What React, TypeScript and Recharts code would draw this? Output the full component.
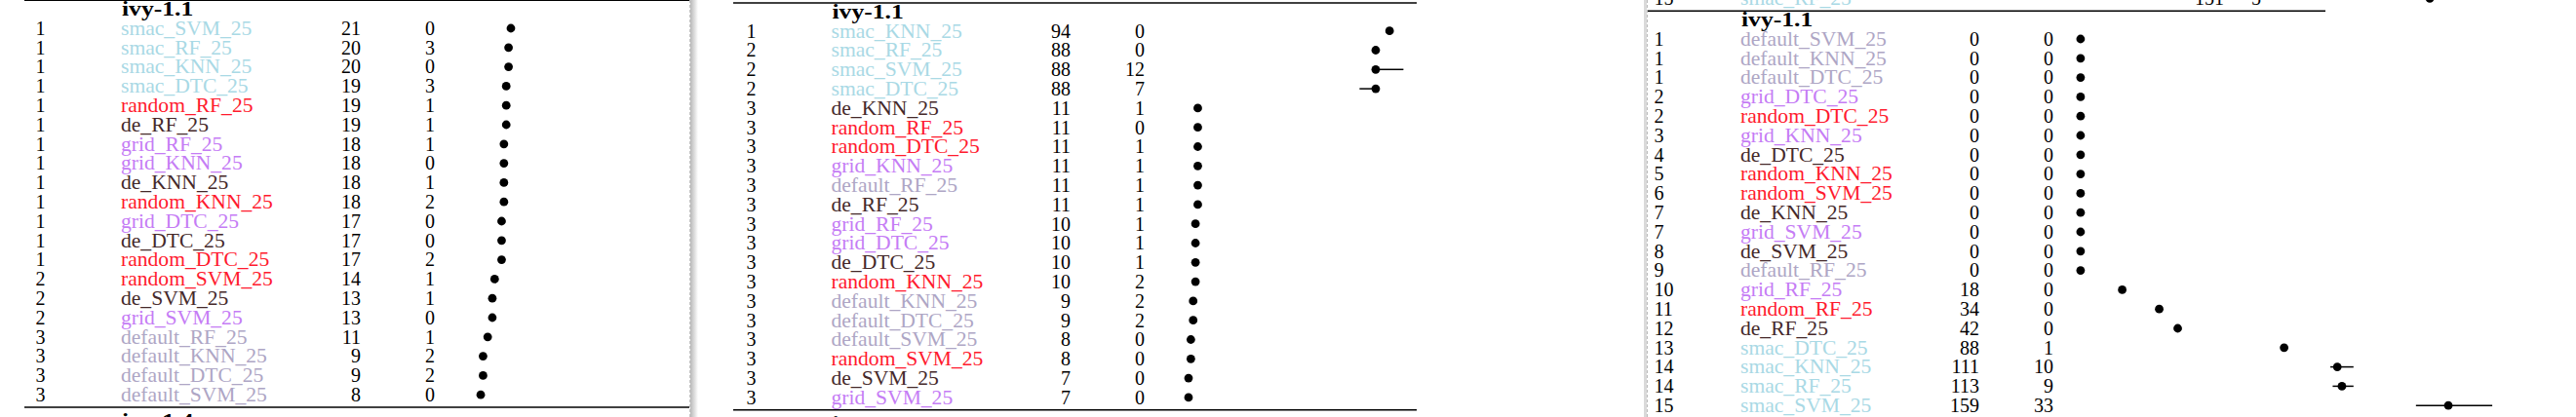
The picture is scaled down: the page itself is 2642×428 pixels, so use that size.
import React from "react";
import { ScatterChart, Scatter, XAxis, YAxis, ErrorBar } from "recharts";

// ---- data (read from the three result pages) ----

const headerTitle = "ivy-1.1";
const nextTitle = "ivy-1.4";

// page 1
const ranksA = [1, 1, 1, 1, 1, 1, 1, 1, 1, 1, 1, 1, 1, 2, 2, 2, 3, 3, 3, 3];
const namesA = [
  "smac_SVM_25", "smac_RF_25", "smac_KNN_25", "smac_DTC_25", "random_RF_25",
  "de_RF_25", "grid_RF_25", "grid_KNN_25", "de_KNN_25", "random_KNN_25",
  "grid_DTC_25", "de_DTC_25", "random_DTC_25", "random_SVM_25", "de_SVM_25",
  "grid_SVM_25", "default_RF_25", "default_KNN_25", "default_DTC_25", "default_SVM_25",
];
const medA = [21, 20, 20, 19, 19, 19, 18, 18, 18, 18, 17, 17, 17, 14, 13, 13, 11, 9, 9, 8];
const iqrA = [0, 3, 0, 3, 1, 1, 1, 0, 1, 2, 0, 0, 2, 1, 1, 0, 1, 2, 2, 0];
const errLoA = [0, 0, 0, 0, 0, 0, 0, 0, 0, 0, 0, 0, 0, 0, 0, 0, 0, 0, 0, 0];
const errHiA = [0, 0, 0, 0, 0, 0, 0, 0, 0, 0, 0, 0, 0, 0, 0, 0, 0, 0, 0, 0];

// page 2
const ranksB = [1, 2, 2, 2, 3, 3, 3, 3, 3, 3, 3, 3, 3, 3, 3, 3, 3, 3, 3, 3];
const namesB = [
  "smac_KNN_25", "smac_RF_25", "smac_SVM_25", "smac_DTC_25", "de_KNN_25",
  "random_RF_25", "random_DTC_25", "grid_KNN_25", "default_RF_25", "de_RF_25",
  "grid_RF_25", "grid_DTC_25", "de_DTC_25", "random_KNN_25", "default_KNN_25",
  "default_DTC_25", "default_SVM_25", "random_SVM_25", "de_SVM_25", "grid_SVM_25",
];
const medB = [94, 88, 88, 88, 11, 11, 11, 11, 11, 11, 10, 10, 10, 10, 9, 9, 8, 8, 7, 7];
const iqrB = [0, 0, 12, 7, 1, 0, 1, 1, 1, 1, 1, 1, 1, 2, 2, 2, 0, 0, 0, 0];
const errLoB = [0, 0, 0, 7, 0, 0, 0, 0, 0, 0, 0, 0, 0, 0, 0, 0, 0, 0, 0, 0];
const errHiB = [0, 0, 12, 0, 0, 0, 0, 0, 0, 0, 0, 0, 0, 0, 0, 0, 0, 0, 0, 0];

// page 3
const ranksC = [1, 1, 1, 2, 2, 3, 4, 5, 6, 7, 7, 8, 9, 10, 11, 12, 13, 14, 14, 15];
const namesC = [
  "default_SVM_25", "default_KNN_25", "default_DTC_25", "grid_DTC_25", "random_DTC_25",
  "grid_KNN_25", "de_DTC_25", "random_KNN_25", "random_SVM_25", "de_KNN_25",
  "grid_SVM_25", "de_SVM_25", "default_RF_25", "grid_RF_25", "random_RF_25",
  "de_RF_25", "smac_DTC_25", "smac_KNN_25", "smac_RF_25", "smac_SVM_25",
];
const medC = [0, 0, 0, 0, 0, 0, 0, 0, 0, 0, 0, 0, 0, 18, 34, 42, 88, 111, 113, 159];
const iqrC = [0, 0, 0, 0, 0, 0, 0, 0, 0, 0, 0, 0, 0, 0, 0, 0, 1, 10, 9, 33];
const errLoC = [0, 0, 0, 0, 0, 0, 0, 0, 0, 0, 0, 0, 0, 0, 0, 0, 0, 3, 4, 14];
const errHiC = [0, 0, 0, 0, 0, 0, 0, 0, 0, 0, 0, 0, 0, 0, 0, 0, 0, 7, 5, 19];
// last row of the previous table, cut off at the top of page 3
const prevRowC = { rank: 15, name: "smac_RF_25", med: 151, iqr: 5 };

const GROUP_COLORS: Record<string, string> = {
  smac: "#a9d9e5",
  random: "#ff1a2e",
  grid: "#c57cf5",
  de: "#45292a",
  default: "#aea6c5",
};

// ---- layout ----

const W = 2642;
const H = 428;
const ROW_H = 19.8;
const Y_MIN = -3;
const Y_MAX = 22;
const CHART_TOP = -40;
const CHART_H = 520;
const AXIS_W = 1;
const FONT = "'Liberation Serif', 'Times New Roman', serif";

const TOP_RULE = -1.45;
const HEADER_ROW = -1;
const BOTTOM_RULE = 19.65;
const NEXT_HEADER = 20.35;
const PREV_ROW = -2.1;

type Panel = {
  pageLeft: number;
  pageWidth: number;
  x0: number;
  slope: number;
  xMax: number;
  firstRowY: number;
  rankX: number;
  nameX: number;
  v1X: number;
  v2X: number;
  prevV1X?: number;
  prevV2X?: number;
  ruleX1: number;
  ruleX2: number;
  showBottom: boolean;
  showPrev: boolean;
};

type Row = { row: number; rank: number; name: string; x: number; iqr: number; err: number[] };

const buildRows = (
  ranks: number[], names: string[], med: number[], iqr: number[], lo: number[], hi: number[]
): Row[] => names.map((name, i) => ({
  row: i,
  rank: ranks[i],
  name,
  x: med[i],
  iqr: iqr[i],
  err: [lo[i], hi[i]],
}));

const prevRow: Row = {
  row: PREV_ROW,
  rank: prevRowC.rank,
  name: prevRowC.name,
  x: prevRowC.med,
  iqr: prevRowC.iqr,
  err: [0, 0],
};

const panels = [
  {
    rows: buildRows(ranksA, namesA, medA, iqrA, errLoA, errHiA),
    layout: {
      pageLeft: 0, pageWidth: 707, x0: 474, slope: 2.38, xMax: 90, firstRowY: 29,
      rankX: 36.5, nameX: 124, v1X: 370, v2X: 446, ruleX1: 25, ruleX2: 707,
      showBottom: true, showPrev: false,
    } as Panel,
  },
  {
    rows: buildRows(ranksB, namesB, medB, iqrB, errLoB, errHiB),
    layout: {
      pageLeft: 716, pageWidth: 970, x0: 1202.4, slope: 2.37, xMax: 100, firstRowY: 31.7,
      rankX: 765.5, nameX: 852.5, v1X: 1098, v2X: 1174, ruleX1: 752, ruleX2: 1453,
      showBottom: true, showPrev: false,
    } as Panel,
  },
  {
    rows: buildRows(ranksC, namesC, medC, iqrC, errLoC, errHiC),
    layout: {
      pageLeft: 1690, pageWidth: 952, x0: 2133.9, slope: 2.372, xMax: 180, firstRowY: 40,
      rankX: 1696.5, nameX: 1785, v1X: 2030, v2X: 2106, prevV1X: 2281, prevV2X: 2319,
      ruleX1: 1690, ruleX2: 2385, showBottom: false, showPrev: true,
    } as Panel,
  },
];

const colorOf = (name: string) => GROUP_COLORS[name.split("_")[0]] ?? "#000";

const textRow = (
  p: Panel, y: number, rank: number, name: string, v1: number, v2: number, c1: number, c2: number
) => {
  const L = p.pageLeft;
  return (
    <g fontFamily={FONT} fontSize={20}>
      <text x={p.rankX - L} y={y} dy="0.34em" fill="#000">{rank}</text>
      <text
        x={0}
        y={0}
        dy="0.34em"
        transform={`translate(${p.nameX - L},${y}) scale(1.08,1)`}
        fill={colorOf(name)}
      >
        {name}
      </text>
      <text x={c1 - L} y={y} dy="0.34em" textAnchor="end" fill="#000">{v1}</text>
      <text x={c2 - L} y={y} dy="0.34em" textAnchor="end" fill="#000">{v2}</text>
    </g>
  );
};

const makeTick = (p: Panel, rows: Row[]) => (props: any) => {
  const { y, payload } = props;
  const r = payload.value;
  const L = p.pageLeft;
  if (r === TOP_RULE || r === BOTTOM_RULE) {
    return <line x1={p.ruleX1 - L} x2={p.ruleX2 - L} y1={y} y2={y} stroke="#000" strokeWidth={1.4} />;
  }
  if (r === HEADER_ROW || r === NEXT_HEADER) {
    return (
      <text
        x={0}
        y={0}
        dy="0.34em"
        transform={`translate(${p.nameX - L + 1},${y}) scale(1.22,1)`}
        fontFamily={FONT}
        fontSize={21}
        fontWeight="bold"
        fill="#000"
      >
        {r === HEADER_ROW ? headerTitle : nextTitle}
      </text>
    );
  }
  if (r === PREV_ROW) {
    return textRow(p, y, prevRow.rank, prevRow.name, prevRow.x, prevRow.iqr,
      p.prevV1X ?? p.v1X, p.prevV2X ?? p.v2X);
  }
  const d = rows[r];
  if (!d) return <g />;
  return textRow(p, y, d.rank, d.name, d.x, d.iqr, p.v1X, p.v2X);
};

const Dot = (props: any) => <circle cx={props.cx} cy={props.cy} r={4.4} fill="#000" />;

const PagePanel = ({ rows, layout }: { rows: Row[]; layout: Panel }) => {
  const plotH = (Y_MAX - Y_MIN) * ROW_H;
  const top = layout.firstRowY - CHART_TOP + Y_MIN * ROW_H;
  const bottom = CHART_H - top - plotH;
  const left = layout.x0 - layout.pageLeft - AXIS_W;
  const plotW = layout.xMax * layout.slope;
  const right = layout.pageWidth - left - AXIS_W - plotW;

  const ticks: number[] = [TOP_RULE, HEADER_ROW, ...rows.map((d) => d.row)];
  if (layout.showBottom) ticks.push(BOTTOM_RULE, NEXT_HEADER);
  if (layout.showPrev) ticks.unshift(PREV_ROW);

  const points = layout.showPrev ? [prevRow, ...rows] : rows;

  return (
    <div
      style={{
        position: "absolute",
        left: layout.pageLeft,
        top: CHART_TOP,
        width: layout.pageWidth,
        height: CHART_H,
      }}
    >
      <ScatterChart
        width={layout.pageWidth}
        height={CHART_H}
        margin={{ top, bottom, left, right }}
      >
        <XAxis type="number" dataKey="x" domain={[0, layout.xMax]} hide />
        <YAxis
          type="number"
          dataKey="row"
          domain={[Y_MIN, Y_MAX]}
          reversed
          ticks={ticks}
          interval={0}
          width={AXIS_W}
          axisLine={false}
          tickLine={false}
          tick={makeTick(layout, rows)}
        />
        <Scatter data={points} shape={Dot} isAnimationActive={false}>
          <ErrorBar dataKey="err" direction="x" width={0} stroke="#000" strokeWidth={1.5} />
        </Scatter>
      </ScatterChart>
    </div>
  );
};

export default function App() {
  return (
    <div
      style={{
        position: "fixed",
        left: 0,
        top: 0,
        width: W,
        height: H,
        overflow: "hidden",
        background: "#fff",
      }}
    >
      {panels.map((p, i) => (
        <PagePanel key={i} rows={p.rows} layout={p.layout} />
      ))}
      {/* page borders between the three pages */}
      <div style={{ position: "absolute", left: 707, top: 0, width: 0, height: H, borderLeft: "1px dashed #c4c4c4" }} />
      <div
        style={{
          position: "absolute",
          left: 708,
          top: 0,
          width: 8,
          height: H,
          background: "linear-gradient(to right, #b8b8b8, #ffffff)",
        }}
      />
      <div style={{ position: "absolute", left: 1686, top: 0, width: 3, height: H, background: "#dadada" }} />
      <div style={{ position: "absolute", left: 1689, top: 0, width: 0, height: H, borderLeft: "1px dashed #bdbdbd" }} />
    </div>
  );
}
